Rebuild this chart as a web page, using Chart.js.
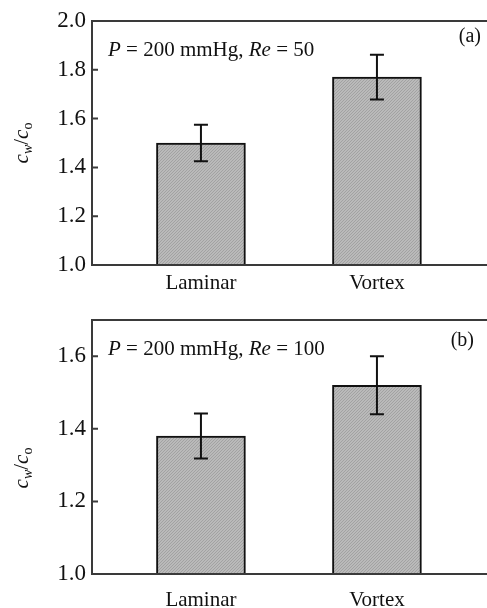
<!DOCTYPE html>
<html>
<head>
<meta charset="utf-8">
<script src="https://cdn.jsdelivr.net/npm/chart.js@4.4.0/dist/chart.umd.min.js"></script>
<style>
  html, body { margin: 0; padding: 0; background: #fff; overflow: hidden; width: 487px; height: 608px; }
  .panel { position: absolute; left: 0; }
  #wrapA { top: 0; }
  #wrapB { top: 300px; }
</style>
</head>
<body>
<div class="panel" id="wrapA"><canvas id="chartA" width="520" height="300"></canvas></div>
<div class="panel" id="wrapB"><canvas id="chartB" width="520" height="308"></canvas></div>
<script>
const categories = ['Laminar', 'Vortex'];
const re50Means = [1.50, 1.77];
const re50Errors = [0.075, 0.092];
const re100Means = [1.38, 1.52];
const re100Errors = [0.062, 0.080];
const re50Ticks = [1.0, 1.2, 1.4, 1.6, 1.8, 2.0];
const re100Ticks = [1.0, 1.2, 1.4, 1.6];

Chart.defaults.font.family = "'Liberation Serif', 'Times New Roman', serif";
Chart.defaults.color = '#111';

// fine diagonal hatching like the printed figure
function hatch() {
  const c = document.createElement('canvas');
  c.width = 3; c.height = 3;
  const g = c.getContext('2d');
  g.fillStyle = '#bababa';
  g.fillRect(0, 0, 3, 3);
  g.fillStyle = '#a2a2a2';
  g.fillRect(2, 0, 1, 1);
  g.fillRect(1, 1, 1, 1);
  g.fillRect(0, 2, 1, 1);
  return g.createPattern(c, 'repeat');
}

// draws text pieces in a row, italic where asked
function drawPieces(ctx, pieces, x, y, size) {
  let cx = x;
  pieces.forEach(p => {
    ctx.font = (p.it ? 'italic ' : '') + size + "px 'Liberation Serif'";
    ctx.fillText(p.t, cx, y);
    cx += ctx.measureText(p.t).width;
  });
}

const paperPlugin = {
  id: 'paper',
  afterDatasetsDraw(chart, args, o) {
    const { ctx, chartArea: a, scales: { x, y } } = chart;
    ctx.save();

    // error bars
    ctx.strokeStyle = '#111';
    ctx.lineWidth = 2;
    ctx.beginPath();
    o.means.forEach((m, i) => {
      const px = x.getPixelForValue(i);
      const top = y.getPixelForValue(m + o.errors[i]);
      const bot = y.getPixelForValue(m - o.errors[i]);
      ctx.moveTo(px, top); ctx.lineTo(px, bot);
      ctx.moveTo(px - 7, top); ctx.lineTo(px + 7, top);
      ctx.moveTo(px - 7, bot); ctx.lineTo(px + 7, bot);
    });
    ctx.stroke();

    // frame + inward ticks
    ctx.strokeStyle = '#3a3a3a';
    ctx.lineWidth = 2;
    ctx.strokeRect(a.left, a.top, a.right - a.left, a.bottom - a.top);
    ctx.beginPath();
    y.ticks.forEach(t => {
      const py = y.getPixelForValue(t.value);
      ctx.moveTo(a.left, py); ctx.lineTo(a.left + 6, py);
    });
    ctx.stroke();

    // annotation
    ctx.fillStyle = '#111';
    ctx.textBaseline = 'alphabetic';
    ctx.textAlign = 'left';
    drawPieces(ctx, o.note, a.left + 16, a.top + 35, 21);

    // panel letter
    ctx.textAlign = 'right';
    ctx.font = "20px 'Liberation Serif'";
    ctx.fillText(o.letter, o.letterX, o.letterY);

    // y title  c_w / c_o
    ctx.translate(28, o.titleY);
    ctx.rotate(-Math.PI / 2);
    ctx.textAlign = 'left';
    const parts = [
      { t: 'c', it: true, s: 21, dy: 0 },
      { t: 'w', it: true, s: 14, dy: 4 },
      { t: '/', it: false, s: 21, dy: 0 },
      { t: 'c', it: true, s: 21, dy: 0 },
      { t: 'o', it: false, s: 14, dy: 4 }
    ];
    let w = 0;
    parts.forEach(p => { ctx.font = (p.it ? 'italic ' : '') + p.s + "px 'Liberation Serif'"; p.w = ctx.measureText(p.t).width; w += p.w; });
    let cx = -w / 2;
    parts.forEach(p => {
      ctx.font = (p.it ? 'italic ' : '') + p.s + "px 'Liberation Serif'";
      ctx.fillText(p.t, cx, p.dy);
      cx += p.w;
    });
    ctx.restore();
  }
};

function makeChart(id, means, errors, ticks, yMax, extra) {
  return new Chart(document.getElementById(id), {
    type: 'bar',
    data: {
      datasets: [{
        data: means.map((v, i) => ({ x: i, y: v })),
        base: 1,
        backgroundColor: hatch(),
        borderColor: '#111',
        borderWidth: 2,
        borderSkipped: 'start',
        barThickness: 89
      }]
    },
    options: {
      responsive: false,
      animation: false,
      layout: { padding: { left: 0, right: 10, top: extra.top, bottom: 0 } },
      plugins: {
        legend: { display: false },
        tooltip: { enabled: false },
        paper: Object.assign({ means, errors }, extra)
      },
      scales: {
        x: {
          type: 'linear',
          offset: false,
          min: -0.619,
          max: 1.756,
          grid: { display: false, drawTicks: false, tickLength: 0 },
          border: { display: false },
          afterBuildTicks: s => { s.ticks = categories.map((c, i) => ({ value: i })); },
          afterFit: s => { s.height = extra.xHeight; },
          ticks: {
            autoSkip: false,
            maxRotation: 0,
            padding: extra.xPad,
            font: { size: 21 },
            color: '#111',
            callback: v => categories[v]
          }
        },
        y: {
          min: 1.0,
          max: yMax,
          grid: { display: false, drawTicks: false, tickLength: 0 },
          border: { display: false },
          afterBuildTicks: s => { s.ticks = ticks.map(v => ({ value: v })); },
          afterFit: s => { s.width = 92; },
          ticks: {
            padding: 6,
            font: { size: 23 },
            color: '#111',
            callback: v => v.toFixed(1)
          }
        }
      }
    },
    plugins: [paperPlugin]
  });
}

makeChart('chartA', re50Means, re50Errors, re50Ticks, 2.0, {
  top: 21, xHeight: 35, xPad: 6,
  note: [{ t: 'P', it: true }, { t: ' = 200 mmHg, ' }, { t: 'Re', it: true }, { t: ' = 50' }],
  letter: '(a)', letterX: 481, letterY: 42, titleY: 143
});

makeChart('chartB', re100Means, re100Errors, re100Ticks, 1.7, {
  top: 20, xHeight: 34, xPad: 14,
  note: [{ t: 'P', it: true }, { t: ' = 200 mmHg, ' }, { t: 'Re', it: true }, { t: ' = 100' }],
  letter: '(b)', letterX: 474, letterY: 46, titleY: 168
});
</script>
</body>
</html>
